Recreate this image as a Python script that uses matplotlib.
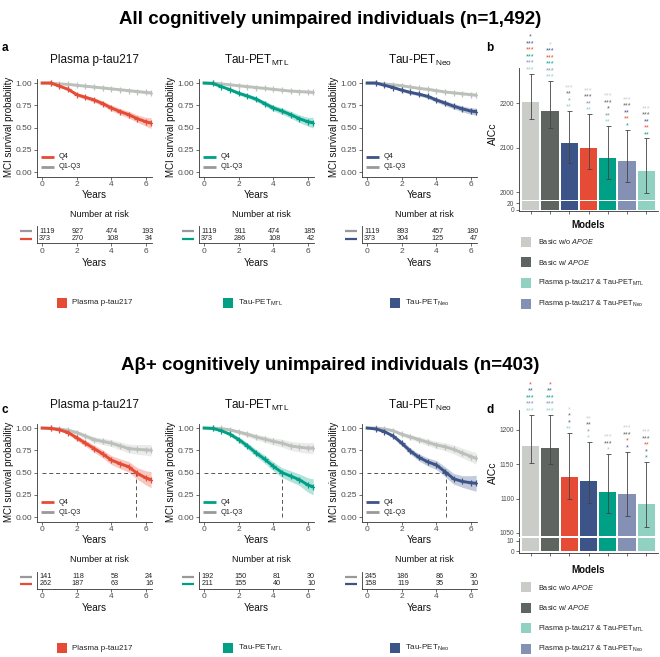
import matplotlib
matplotlib.use('Agg')
import matplotlib.pyplot as plt
from matplotlib.patches import Rectangle
from matplotlib.lines import Line2D
import numpy as np

plt.rcParams['font.family'] = ['Liberation Sans', 'DejaVu Sans']
plt.rcParams['mathtext.fontset'] = 'custom'
plt.rcParams['mathtext.rm'] = 'Liberation Sans'
plt.rcParams['mathtext.it'] = 'Liberation Sans:italic'
plt.rcParams['mathtext.bf'] = 'Liberation Sans:bold'

# ---------------- data ----------------
TIMES = [0, 0.5, 1, 1.5, 2, 2.5, 3, 3.5, 4, 4.5, 5, 5.5, 6, 6.3]

# All CU (a)
a_plasma_ref = [1.00, 1.00, 0.99, 0.985, 0.975, 0.965, 0.955, 0.945, 0.935, 0.925, 0.915, 0.905, 0.895, 0.89]
a_plasma_q4 = [1.00, 1.00, 0.965, 0.93, 0.87, 0.84, 0.81, 0.77, 0.72, 0.68, 0.645, 0.60, 0.565, 0.55]
a_mtl_ref = [1.00, 1.00, 0.99, 0.98, 0.97, 0.96, 0.95, 0.94, 0.93, 0.92, 0.91, 0.905, 0.90, 0.895]
a_mtl_q4 = [1.00, 0.995, 0.96, 0.925, 0.885, 0.855, 0.82, 0.77, 0.72, 0.685, 0.645, 0.60, 0.565, 0.555]
a_neo_ref = [1.00, 1.00, 0.99, 0.98, 0.97, 0.955, 0.94, 0.93, 0.915, 0.90, 0.89, 0.88, 0.87, 0.865]
a_neo_q4 = [1.00, 1.00, 0.975, 0.95, 0.92, 0.895, 0.875, 0.85, 0.81, 0.775, 0.74, 0.71, 0.685, 0.68]
a_ref_ci = [0, 0, 0.004, 0.005, 0.006, 0.007, 0.008, 0.009, 0.010, 0.011, 0.012, 0.013, 0.015, 0.016]
a_q4_ci = [0, 0.003, 0.010, 0.015, 0.020, 0.022, 0.025, 0.028, 0.032, 0.035, 0.038, 0.042, 0.050, 0.060]
a_neo_q4_ci = [0, 0.002, 0.008, 0.012, 0.015, 0.018, 0.020, 0.022, 0.025, 0.028, 0.030, 0.033, 0.036, 0.040]

# Abeta+ CU (c)
c_plasma_ref = [1.00, 1.00, 0.99, 0.975, 0.95, 0.91, 0.87, 0.85, 0.83, 0.80, 0.77, 0.76, 0.755, 0.75]
c_plasma_q4 = [1.00, 0.995, 0.98, 0.95, 0.89, 0.83, 0.77, 0.71, 0.64, 0.60, 0.565, 0.49, 0.44, 0.42]
c_mtl_ref = [1.00, 1.00, 0.995, 0.98, 0.955, 0.93, 0.90, 0.875, 0.85, 0.83, 0.80, 0.785, 0.775, 0.775]
c_mtl_q4 = [1.00, 0.995, 0.97, 0.93, 0.87, 0.80, 0.72, 0.65, 0.57, 0.50, 0.46, 0.42, 0.36, 0.34]
c_neo_ref = [1.00, 1.00, 0.99, 0.97, 0.93, 0.90, 0.87, 0.84, 0.81, 0.79, 0.76, 0.72, 0.68, 0.66]
c_neo_q4 = [1.00, 0.99, 0.96, 0.91, 0.83, 0.74, 0.67, 0.62, 0.585, 0.51, 0.43, 0.40, 0.385, 0.38]
c_ref_ci = [0, 0, 0.008, 0.012, 0.020, 0.027, 0.032, 0.036, 0.040, 0.045, 0.050, 0.055, 0.060, 0.065]
c_q4_ci = [0, 0.005, 0.012, 0.020, 0.030, 0.035, 0.040, 0.045, 0.050, 0.055, 0.060, 0.065, 0.080, 0.090]
c_medians = [5.4, 4.5, 4.55]

# numbers at risk (times 0, 2, 4, 6)
RISK_TIMES = [0, 2, 4, 6]
a_risk_ref = [[1119, 927, 474, 193], [1119, 911, 474, 185], [1119, 893, 457, 180]]
a_risk_q4 = [[373, 270, 108, 34], [373, 286, 108, 42], [373, 304, 125, 47]]
c_risk_ref = [[141, 118, 58, 24], [192, 150, 81, 30], [245, 186, 86, 30]]
c_risk_q4 = [[262, 187, 63, 16], [211, 155, 40, 10], [158, 119, 35, 10]]

# AICc bars
b_models = ['lgray', 'dgray', 'blue', 'red', 'green', 'slate', 'lgreen']
b_aicc = [2204, 2184, 2111, 2099, 2077, 2070, 2047]
b_lo = [2164, 2144, 2065, 2053, 2029, 2023, 1998]
b_hi = [2267, 2250, 2183, 2176, 2149, 2141, 2121]
d_models = ['lgray', 'dgray', 'red', 'blue', 'green', 'slate', 'lgreen']
d_aicc = [1176, 1174, 1132, 1126, 1109, 1107, 1092]
d_lo = [1152, 1150, 1100, 1093, 1079, 1075, 1058]
d_hi = [1222, 1222, 1195, 1182, 1165, 1168, 1153]

# significance stars, bottom -> top
b_stars = [
    [('***', 'lgreen'), ('***', 'slate'), ('***', 'green'), ('***', 'red'), ('***', 'blue'), ('*', 'dgray')],
    [('***', 'lgreen'), ('***', 'slate'), ('***', 'green'), ('***', 'red'), ('***', 'blue'), ('*', 'lgray')],
    [('**', 'lgreen'), ('*', 'slate'), ('**', 'dgray'), ('***', 'lgray')],
    [('**', 'lgreen'), ('**', 'slate'), ('***', 'dgray'), ('***', 'lgray')],
    [('**', 'lgreen'), ('**', 'slate'), ('*', 'blue'), ('***', 'dgray'), ('***', 'lgray')],
    [('*', 'green'), ('**', 'red'), ('**', 'blue'), ('***', 'dgray'), ('***', 'lgray')],
    [('**', 'green'), ('**', 'red'), ('**', 'blue'), ('***', 'dgray'), ('***', 'lgray')],
]
d_stars = [
    [('***', 'lgreen'), ('***', 'slate'), ('***', 'green'), ('**', 'blue'), ('*', 'red')],
    [('***', 'lgreen'), ('***', 'slate'), ('***', 'green'), ('**', 'blue'), ('*', 'red')],
    [('**', 'lgreen'), ('*', 'blue'), ('*', 'dgray'), ('*', 'lgray')],
    [('*', 'lgreen'), ('*', 'slate'), ('**', 'dgray'), ('**', 'lgray')],
    [('*', 'lgreen'), ('***', 'dgray'), ('***', 'lgray')],
    [('*', 'blue'), ('*', 'red'), ('***', 'dgray'), ('***', 'lgray')],
    [('*', 'green'), ('*', 'blue'), ('**', 'red'), ('***', 'dgray'), ('***', 'lgray')],
]

# ---------------- style ----------------
COL = {'red': '#E64B35', 'green': '#00A087', 'blue': '#3C5488', 'slate': '#8491B4',
       'lgreen': '#91D1C2', 'lgray': '#C9CCC7', 'dgray': '#5E6560'}
KMGRAY = '#BCC0BB'
KEYGRAY = '#999999'
AXC = '#333333'
TXC = '#4D4D4D'

W, H = 660, 657
fig = plt.figure(figsize=(6.6, 6.57), dpi=100)


def rect(x0, y0, x1, y1):
    return [x0 / W, 1 - y1 / H, (x1 - x0) / W, (y1 - y0) / H]


def ft(x, y, s, **kw):
    kw.setdefault('ha', 'center')
    kw.setdefault('va', 'center')
    return fig.text(x / W, 1 - y / H, s, **kw)


def fline(x0, x1, y, color, lw=2.0):
    fig.add_artist(Line2D([x0 / W, x1 / W], [1 - y / H, 1 - y / H], color=color, lw=lw,
                          transform=fig.transFigure, solid_capstyle='butt'))


def fsquare(x0, y0, size, color):
    fig.add_artist(Rectangle((x0 / W, 1 - (y0 + size) / H), size / W, size / H,
                             color=color, transform=fig.transFigure, lw=0))


def style(ax, fs=6):
    for s in ['top', 'right']:
        ax.spines[s].set_visible(False)
    for s in ['left', 'bottom']:
        ax.spines[s].set_color(AXC)
        ax.spines[s].set_linewidth(0.6)
    ax.tick_params(length=2, width=0.5, color=AXC, labelsize=fs, labelcolor=TXC, pad=1.5)


PANEL_LEFTS = [37, 199, 362]
PW = 115
TITLES = ['Plasma p-tau217', r'Tau-PET$_{\mathrm{MTL}}$', r'Tau-PET$_{\mathrm{Neo}}$']
QCOLS = [COL['red'], COL['green'], COL['blue']]


def km_block(dy, refs, q4s, ref_ci, q4_cis, risk_ref, risk_q4, medians=None):
    for i in range(3):
        L = PANEL_LEFTS[i]
        ax = fig.add_axes(rect(L, 78.6 + dy, L + PW, 176.5 + dy))
        ax.set_xlim(-0.3, 6.35)
        ax.set_ylim(-0.05, 1.05)
        t = np.array(TIMES)
        if medians is not None:
            m = medians[i]
            ax.plot([0, m], [0.5, 0.5], ls=(0, (4, 3)), color='#555555', lw=0.7, zorder=1)
            ax.plot([m, m], [0, 0.5], ls=(0, (4, 3)), color='#555555', lw=0.7, zorder=1)
        for s, ci, c in [(refs[i], ref_ci, KMGRAY), (q4s[i], q4_cis[i], QCOLS[i])]:
            s = np.array(s)
            ci = np.array(ci)
            ax.fill_between(t, s - ci, np.minimum(s + ci, 1.0), color=c, alpha=0.3, lw=0, zorder=2)
            ax.plot(t, s, color=c, lw=2.1, marker='+', ms=4.5, mew=0.9,
                    markevery=list(range(1, len(t))), zorder=3)
        ax.set_xticks([0, 2, 4, 6])
        ax.set_yticks([0, 0.25, 0.5, 0.75, 1.0])
        ax.set_yticklabels(['0.00', '0.25', '0.50', '0.75', '1.00'])
        style(ax)
        cx = L + PW / 2
        ft(cx, 60 + dy, TITLES[i], fontsize=8.5, color='#111111')
        ft(L - 28, 127 + dy, 'MCI survival probability', rotation=90, fontsize=7, color='#111111')
        ft(cx, 195 + dy, 'Years', fontsize=7.2, color='#111111')
        # in-plot legend
        x0 = L + 4
        fline(x0, x0 + 13, 157 + dy, QCOLS[i], lw=2.0)
        fline(x0, x0 + 13, 167 + dy, KEYGRAY, lw=2.0)
        ft(x0 + 18, 157 + dy, 'Q4', fontsize=5.3, ha='left', color='#222222')
        ft(x0 + 18, 167 + dy, 'Q1-Q3', fontsize=5.3, ha='left', color='#222222')

        # risk table
        rx = fig.add_axes(rect(L, 226.5 + dy, L + PW, 243.5 + dy))
        rx.set_xlim(-0.3, 6.35)
        rx.set_ylim(0, 2)
        rx.set_yticks([])
        rx.set_xticks([0, 2, 4, 6])
        style(rx)
        for row_vals, yy in [(risk_ref[i], 1.42), (risk_q4[i], 0.62)]:
            for j, tt in enumerate(RISK_TIMES):
                if j == 0:
                    rx.text(tt - 0.17, yy, str(row_vals[j]), ha='left', va='center', fontsize=5.2, color='#222222')
                else:
                    rx.text(tt + 0.42, yy, str(row_vals[j]), ha='right', va='center', fontsize=5.2, color='#222222')
        fline(L - 17, L - 5, 231.5 + dy, KEYGRAY, lw=1.6)
        fline(L - 17, L - 5, 238.5 + dy, QCOLS[i], lw=1.6)
        ft(cx + 5, 215 + dy, 'Number at risk', fontsize=6.5, color='#111111')
        ft(cx, 263 + dy, 'Years', fontsize=7.2, color='#111111')


km_block(0, [a_plasma_ref, a_mtl_ref, a_neo_ref], [a_plasma_q4, a_mtl_q4, a_neo_q4],
         a_ref_ci, [a_q4_ci, a_q4_ci, a_neo_q4_ci], a_risk_ref, a_risk_q4)
km_block(345, [c_plasma_ref, c_mtl_ref, c_neo_ref], [c_plasma_q4, c_mtl_q4, c_neo_q4],
         c_ref_ci, [c_q4_ci, c_q4_ci, c_q4_ci], c_risk_ref, c_risk_q4, medians=c_medians)

# bottom legends under KM
LEG_SQ = [(57, 'Plasma p-tau217', COL['red']), (223, r'Tau-PET$_{\mathrm{MTL}}$', COL['green']),
          (390, r'Tau-PET$_{\mathrm{Neo}}$', COL['blue'])]
for dy in (0, 345):
    for x0, lab, c in LEG_SQ:
        fsquare(x0, 298 + dy, 10, c)
        ft(x0 + 15, 303 + dy, lab, fontsize=5.8, ha='left', color='#222222')


def bar_block(top, brk, ltop, lbot, ylu, yll, ytu, ytl, models, vals, lo, hi, stars):
    x = np.arange(1, 8)
    cols = [COL[m] for m in models]
    vals = np.array(vals, float)
    lo = np.array(lo, float)
    hi = np.array(hi, float)
    axu = fig.add_axes(rect(519, top, 658, brk))
    axl = fig.add_axes(rect(519, ltop, 658, lbot))
    for ax in (axu, axl):
        ax.bar(x, vals, width=0.9, color=cols, lw=0)
        ax.set_xlim(0.4, 7.6)
        style(ax, fs=4.8)
    axu.set_ylim(*ylu)
    axl.set_ylim(*yll)
    axu.set_yticks(ytu)
    axl.set_yticks(ytl)
    axu.spines['bottom'].set_visible(False)
    axu.set_xticks([])
    axl.set_xticks(x)
    axl.set_xticklabels([])
    axu.errorbar(x, vals, yerr=[vals - lo, hi - vals], fmt='none', ecolor='#444444',
                 elinewidth=0.6, capsize=1.8, capthick=0.6)
    for i in range(7):
        for k, (lab, ck) in enumerate(stars[i]):
            axu.annotate(lab, xy=(x[i], hi[i]), xytext=(0, (4.0 + 6.5 * k) * 0.72),
                         textcoords='offset points', ha='center', va='center', fontsize=5.2,
                         color=COL[ck], annotation_clip=False)
    ft(493, (top + brk) / 2, 'AICc', rotation=90, fontsize=7.5, color='#111111')


bar_block(68, 200, 201.5, 211, (1982, 2280), (-3, 25), [2000, 2100, 2200], [0, 20],
          b_models, b_aicc, b_lo, b_hi, b_stars)
bar_block(410, 536, 537.5, 553, (1045.5, 1229), (-1.5, 13), [1050, 1100, 1150, 1200], [0, 10],
          d_models, d_aicc, d_lo, d_hi, d_stars)

LEG_MODELS = [(r'Basic w/o $\mathit{APOE}$', 'lgray'), (r'Basic w/ $\mathit{APOE}$', 'dgray'),
              (r'Plasma p-tau217 & Tau-PET$_{\mathrm{MTL}}$', 'lgreen'),
              (r'Plasma p-tau217 & Tau-PET$_{\mathrm{Neo}}$', 'slate')]
for dy in (0, 345):
    ft(588.5, 225 + dy, 'Models', fontsize=7, fontweight='bold', color='#111111')
    for k, (lab, ck) in enumerate(LEG_MODELS):
        yy = 242 + dy + k * 20.5
        fsquare(521, yy - 5, 10, COL[ck])
        ft(538, yy, lab, fontsize=5.3, ha='left', color='#222222')

# titles and panel letters
ft(330, 20, 'All cognitively unimpaired individuals (n=1,492)', fontsize=13.5, fontweight='bold')
ft(330, 365, 'Aβ+ cognitively unimpaired individuals (n=403)', fontsize=13.5, fontweight='bold')
for lab, x, y in [('a', 5, 48), ('b', 490, 48), ('c', 5, 410), ('d', 490, 410)]:
    ft(x, y, lab, fontsize=8.5, fontweight='bold')

fig.savefig('out.png', dpi=100)
